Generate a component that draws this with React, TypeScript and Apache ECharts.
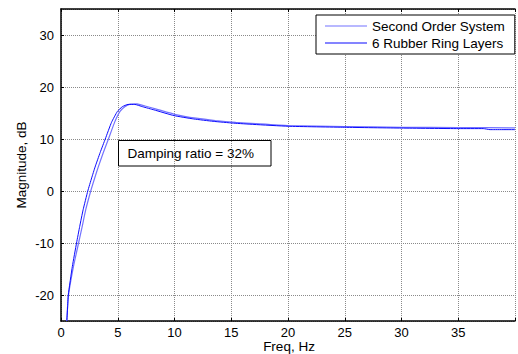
import React, { useEffect, useRef } from "react";
import * as echarts from "echarts";

// Frequencies (Hz) and magnitudes (dB)
const freqSecond = [0.5, 0.57, 0.66, 1.1, 1.55, 1.87, 2.18, 2.62, 2.97, 3.28, 3.73, 4.18, 4.72, 5.2, 5.62, 6.1, 6.7, 7.4, 8.4, 10.1, 11.9, 13.6, 15.4, 17.2, 20, 25, 30, 35, 40];
const magSecond = [-25, -22.5, -20, -14.5, -10, -6.8, -3.6, 0, 2.5, 4.6, 7.4, 10, 13.2, 15.3, 16.2, 16.7, 16.75, 16.35, 15.75, 14.7, 14.0, 13.55, 13.2, 12.95, 12.6, 12.4, 12.25, 12.2, 12.15];

const freqRubber = [0.52, 0.58, 0.64, 1.0, 1.37, 1.65, 1.95, 2.36, 2.7, 3.0, 3.45, 3.9, 4.45, 4.97, 5.4, 5.9, 6.5, 7.2, 8.2, 9.95, 11.7, 13.4, 15.2, 17, 20, 25, 30, 35, 37.2, 37.8, 40];
const magRubber = [-25, -22.5, -20, -14.5, -10, -6.8, -3.6, 0, 2.5, 4.6, 7.4, 10, 13.2, 15.3, 16.2, 16.65, 16.65, 16.2, 15.6, 14.5, 13.85, 13.4, 13.05, 12.8, 12.45, 12.25, 12.1, 12.0, 12.0, 11.8, 11.8];

const seriesNames = ["Second Order System", "6 Rubber Ring Layers"];
const seriesColors = ["#7373ff", "#0a0aff"];
const annotation = "Damping ratio = 32%";
const xTitle = "Freq, Hz";
const yTitle = "Magnitude, dB";

const FONT = "'Liberation Sans', Arial, sans-serif";

export default function App() {
  const ref = useRef<HTMLDivElement>(null);
  useEffect(() => {
    if (!ref.current) return;
    const chart = echarts.init(ref.current, undefined, { renderer: "svg" });
    const zip = (xs: number[], ys: number[]) => xs.map((x, i) => [x, ys[i]]);
    const gridLine = { show: true, lineStyle: { color: "#8a8a8a", type: [1, 1] as any, width: 1 } };
    chart.setOption({
      animation: false,
      backgroundColor: "#ffffff",
      textStyle: { fontFamily: FONT },
      grid: { left: 61, top: 9, width: 458, height: 312, containLabel: false },
      xAxis: [
        {
          type: "value",
          min: 0,
          max: 40,
          interval: 5,
          axisLine: { show: true, onZero: false, lineStyle: { color: "#000", width: 1.5 } },
          axisTick: { show: true, inside: true, length: 3, lineStyle: { color: "#000" } },
          axisLabel: {
            color: "#000",
            fontSize: 13,
            lineHeight: 13,
            fontFamily: FONT,
            margin: 5,
            formatter: (v: number) => (v >= 40 ? "" : String(v)),
          },
          splitLine: gridLine,
        },
        {
          type: "value",
          position: "top",
          min: 0,
          max: 40,
          interval: 5,
          axisLine: { show: true, onZero: false, lineStyle: { color: "#000", width: 1.5 } },
          axisTick: { show: true, inside: true, length: 3, lineStyle: { color: "#000" } },
          axisLabel: { show: false },
          splitLine: { show: false },
        },
      ],
      yAxis: {
        type: "value",
        min: -25,
        max: 35,
        splitNumber: 6,
        axisLine: { show: true, onZero: false, lineStyle: { color: "#000", width: 1.5 } },
        axisTick: { show: true, inside: true, length: 3, lineStyle: { color: "#000" } },
        axisLabel: {
          color: "#000",
          fontSize: 13,
          fontFamily: FONT,
          margin: 7,
          showMinLabel: false,
          showMaxLabel: false,
          formatter: (v: number) => (Math.abs(v % 10) < 1e-9 ? String(v) : ""),
        },
        splitLine: gridLine,
      },
      legend: {
        left: 316,
        top: 15,
        orient: "vertical",
        backgroundColor: "#ffffff",
        borderColor: "#000",
        borderWidth: 1,
        borderRadius: 0,
        padding: [3, 10, 3, 9],
        itemGap: 1,
        itemWidth: 42,
        itemHeight: 1,
        itemTextGap: 4,
        icon: "rect",
        textStyle: { color: "#000", fontSize: 13.5, fontFamily: FONT, lineHeight: 16 },
        data: seriesNames,
      },
      series: [
        {
          name: seriesNames[0],
          type: "line",
          data: zip(freqSecond, magSecond),
          showSymbol: false,
          symbol: "none",
          smooth: 0.15,
          lineStyle: { color: seriesColors[0], width: 1.2 },
          itemStyle: { color: seriesColors[0] },
        },
        {
          name: seriesNames[1],
          type: "line",
          data: zip(freqRubber, magRubber),
          showSymbol: false,
          symbol: "none",
          smooth: 0.15,
          lineStyle: { color: seriesColors[1], width: 1 },
          itemStyle: { color: seriesColors[1] },
        },
      ],
      graphic: [
        {
          type: "rect",
          shape: { x: 118.5, y: 140.5, width: 152.5, height: 25.5 },
          style: { fill: "none", stroke: "#000", lineWidth: 1 },
          z: 10,
        },
        {
          type: "text",
          x: 127.5,
          y: 153.5,
          style: { text: annotation, fill: "#000", font: `13.5px ${FONT}`, textVerticalAlign: "middle" },
          z: 10,
        },
        {
          type: "text",
          x: 289,
          y: 346,
          style: { text: xTitle, fill: "#000", font: `13.5px ${FONT}`, textAlign: "center", textVerticalAlign: "middle" },
        },
        {
          type: "text",
          x: 21,
          y: 165,
          rotation: Math.PI / 2,
          style: { text: yTitle, fill: "#000", font: `13.5px ${FONT}`, textAlign: "center", textVerticalAlign: "middle" },
        },
      ],
    });
    return () => chart.dispose();
  }, []);
  return (
    <div
      ref={ref}
      style={{ position: "fixed", left: 0, top: 0, width: 518, height: 354, background: "#fff" }}
    />
  );
}
